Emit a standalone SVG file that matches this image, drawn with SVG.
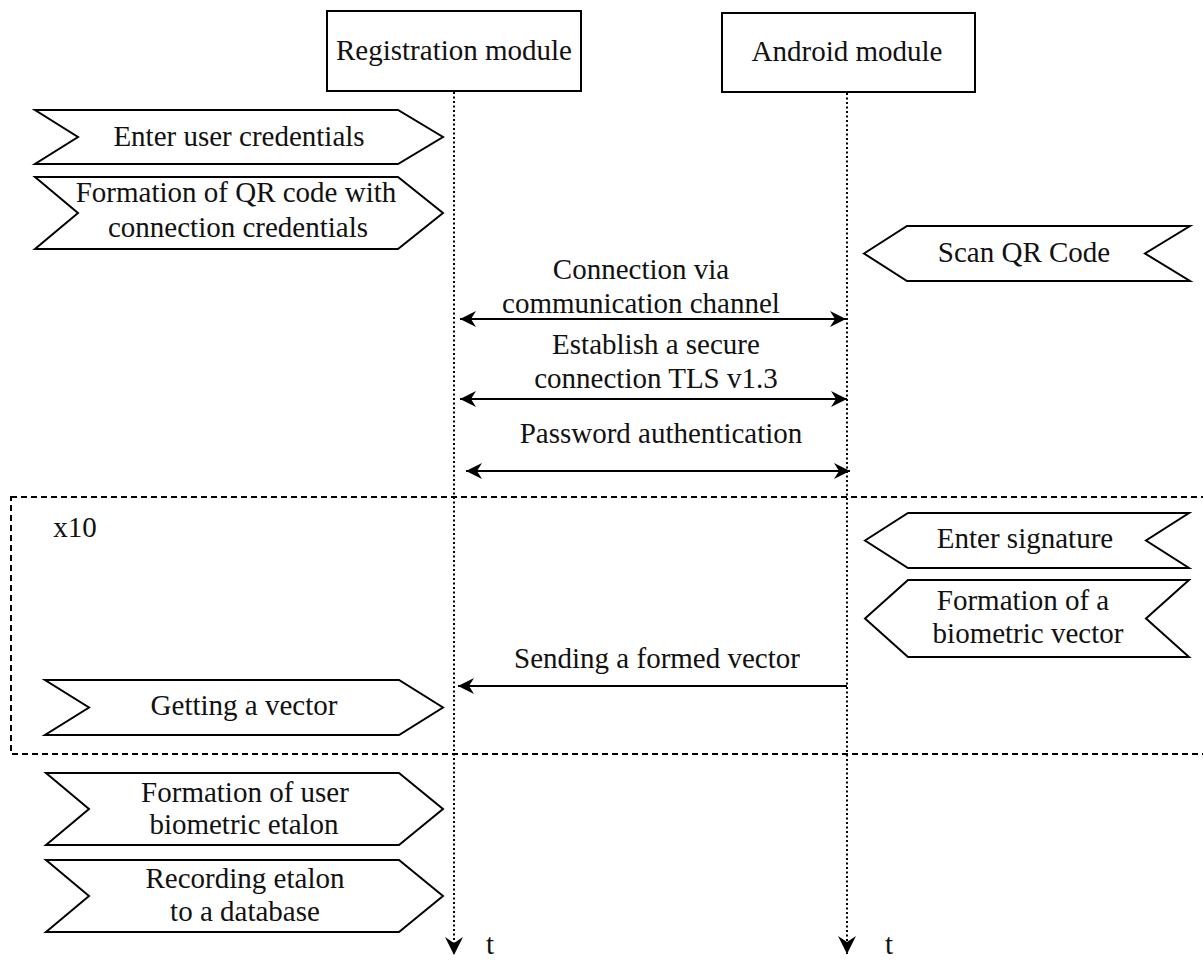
<svg xmlns="http://www.w3.org/2000/svg" width="1203" height="961" viewBox="0 0 1203 961">
  <style>
    text { font-family: "Liberation Serif", "Times New Roman", serif; font-size: 29px; fill: #111; text-anchor: middle; }
    .box { fill: #fff; stroke: #000; stroke-width: 2; }
    .step { fill: #fff; stroke: #000; stroke-width: 2; stroke-linejoin: miter; }
    .life { fill: none; stroke: #000; stroke-width: 2; stroke-dasharray: 2 2.5; }
    .msg { fill: none; stroke: #000; stroke-width: 2; }
    .loop { fill: none; stroke: #000; stroke-width: 2; stroke-dasharray: 6 4; }
  </style>
  <defs>
    <marker id="arrow" viewBox="-17 -9 18 18" refX="0" refY="0" markerWidth="18" markerHeight="18" markerUnits="userSpaceOnUse" orient="auto-start-reverse">
      <path d="M0,0 L-16,-8 L-11,0 L-16,8 Z" fill="#000"/>
    </marker>
    <marker id="time" viewBox="-19 -10 20 20" refX="0" refY="0" markerWidth="20" markerHeight="20" markerUnits="userSpaceOnUse" orient="auto">
      <path d="M0,0 L-18,-9 L-12,0 L-18,9 Z" fill="#000"/>
    </marker>
  </defs>

  <!-- loop frame -->
  <g id="loop-x10">
    <rect class="loop" x="11" y="497" width="1210" height="257"/>
    <text x="75" y="537">x10</text>
  </g>

  <!-- lifelines and messages -->
  <g id="connectors">
    <line class="life" x1="454" y1="92" x2="454" y2="955" marker-end="url(#time)"/>
    <line class="life" x1="847" y1="93" x2="847" y2="954" marker-end="url(#time)"/>
    <line class="msg" x1="460" y1="319" x2="846" y2="319" marker-start="url(#arrow)" marker-end="url(#arrow)"/>
    <line class="msg" x1="460" y1="399" x2="847" y2="399" marker-start="url(#arrow)" marker-end="url(#arrow)"/>
    <line class="msg" x1="466" y1="471" x2="850" y2="471" marker-start="url(#arrow)" marker-end="url(#arrow)"/>
    <line class="msg" x1="847" y1="686" x2="458" y2="686" marker-end="url(#arrow)"/>
    <text x="641" y="279">Connection via</text>
    <text x="641" y="313">communication channel</text>
    <text x="656" y="354">Establish a secure</text>
    <text x="656" y="388">connection TLS v1.3</text>
    <text x="661" y="443">Password authentication</text>
    <text x="657" y="668">Sending a formed vector</text>
    <text x="490" y="954">t</text>
    <text x="889" y="954">t</text>
  </g>

  <!-- participants -->
  <g id="registration-module">
    <rect class="box" x="327" y="11" width="254" height="80"/>
    <text x="454" y="60">Registration module</text>
  </g>
  <g id="android-module">
    <rect class="box" x="722" y="13" width="253" height="79"/>
    <text x="847" y="61">Android module</text>
  </g>

  <!-- registration module steps -->
  <g id="enter-user-credentials">
    <path class="step" d="M35,110 L398,110 L443,137 L398,164 L35,164 L78,137 Z"/>
    <text x="239" y="146">Enter user credentials</text>
  </g>
  <g id="form-qr-code">
    <path class="step" d="M35,177 L398,177 L443,213 L398,249 L35,249 L78,213 Z"/>
    <text x="236" y="202">Formation of QR code with</text>
    <text x="238" y="237">connection credentials</text>
  </g>
  <g id="getting-vector">
    <path class="step" d="M45,680 L399,680 L443,707.5 L399,735 L45,735 L89,707.5 Z"/>
    <text x="244" y="715">Getting a vector</text>
  </g>
  <g id="form-etalon">
    <path class="step" d="M46,773 L399,773 L443,809 L399,845 L46,845 L89,809 Z"/>
    <text x="245" y="802">Formation of user</text>
    <text x="244" y="834">biometric etalon</text>
  </g>
  <g id="record-etalon">
    <path class="step" d="M46,860 L399,860 L443,896 L399,932 L46,932 L89,896 Z"/>
    <text x="245" y="888">Recording etalon</text>
    <text x="245" y="921">to a database</text>
  </g>

  <!-- android module steps -->
  <g id="scan-qr-code">
    <path class="step" d="M864,253.5 L907,226 L1190,226 L1145,253.5 L1190,281 L907,281 Z"/>
    <text x="1024" y="262">Scan QR Code</text>
  </g>
  <g id="enter-signature">
    <path class="step" d="M865,540.5 L908,513 L1189,513 L1146,540.5 L1189,568 L908,568 Z"/>
    <text x="1025" y="548">Enter signature</text>
  </g>
  <g id="form-biometric-vector">
    <path class="step" d="M865,618.5 L908,580 L1189,580 L1146,618.5 L1189,657 L908,657 Z"/>
    <text x="1023" y="610">Formation of a</text>
    <text x="1028" y="643">biometric vector</text>
  </g>
</svg>
